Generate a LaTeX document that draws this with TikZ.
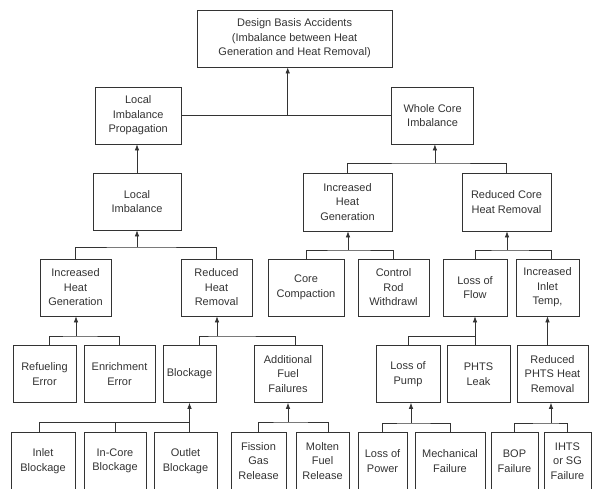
\documentclass[tikz,border=0pt]{standalone}
\usepackage{fontspec}
\setmainfont{Liberation Sans}
\usetikzlibrary{arrows.meta}

\begin{document}
\begin{tikzpicture}[x=1pt,y=1pt,yscale=-1,
    box/.style={draw=black!80,line width=0.7pt,align=center,inner sep=1pt,
      text=black!80,font=\fontsize{11}{14.5}\selectfont},
    wire/.style={draw=black!80,line width=0.7pt},
    arr/.style={wire,-{Latex[length=6pt,width=4.5pt]}}]
  \clip (0,0) rectangle (592,488);
  % top
  \node[box,minimum width=194.5,minimum height=57] (dba) at (294.6,38.5) {Design Basis Accidents\\(Imbalance between Heat\\Generation and Heat Removal)};
  \node[box,minimum width=86,minimum height=57] (lip) at (138.2,115.5) {Local\\Imbalance\\Propagation};
  \node[box,minimum width=81.6,minimum height=57] (wci) at (432.6,115.5) {Whole Core\\Imbalance};
  % second row
  \node[box,minimum width=88,minimum height=57] (li) at (137,201.5) {Local\\Imbalance};
  \node[box,minimum width=89,minimum height=58] (ihgr) at (347.5,202) {Increased\\Heat\\Generation};
  \node[box,minimum width=89,minimum height=58] (rchr) at (506.5,202) {Reduced Core\\Heat Removal};
  % third row
  \node[box,minimum width=71,minimum height=57] (ihgl) at (75.5,287.5) {Increased\\Heat\\Generation};
  \node[box,minimum width=71,minimum height=57] (rhr) at (216.5,287.5) {Reduced\\Heat\\Removal};
  \node[box,minimum width=76,minimum height=57] (cc) at (306,287.5) {Core\\Compaction};
  \node[box,minimum width=71,minimum height=57] (crw) at (393.5,287.5) {Control\\Rod\\Withdrawl};
  \node[box,minimum width=64,minimum height=57] (lof) at (475,287.5) {Loss of\\Flow};
  \node[box,minimum width=63,minimum height=57] (iit) at (547.5,287.5) {Increased\\Inlet\\Temp,};
  % fourth row
  \node[box,minimum width=63,minimum height=57] (re) at (44.5,374) {Refueling\\Error};
  \node[box,minimum width=71,minimum height=57] (ee) at (119.5,374) {Enrichment\\Error};
  \node[box,minimum width=53,minimum height=57] (blk) at (189.5,374) {Blockage};
  \node[box,minimum width=68,minimum height=57] (aff) at (288,374) {Additional\\Fuel\\Failures};
  \node[box,minimum width=64,minimum height=57] (lop) at (408,374) {Loss of\\Pump};
  \node[box,minimum width=63,minimum height=57] (pl) at (478.5,374) {PHTS\\Leak};
  \node[box,minimum width=71,minimum height=57] (rphr) at (552.5,374) {Reduced\\PHTS Heat\\Removal};
  % bottom row
  \node[box,minimum width=64,minimum height=58] (ib) at (43,461) {Inlet\\Blockage};
  \node[box,minimum width=62,minimum height=58] (icb) at (115,461) {In-Core\\Blockage};
  \node[box,minimum width=63,minimum height=58] (ob) at (185.5,461) {Outlet\\Blockage};
  \node[box,minimum width=55,minimum height=58] (fgr) at (258.5,461) {Fission\\Gas\\Release};
  \node[box,minimum width=53,minimum height=58] (mfr) at (322.5,461) {Molten\\Fuel\\Release};
  \node[box,minimum width=49,minimum height=58] (lpw) at (382.5,461) {Loss of\\Power};
  \node[box,minimum width=70,minimum height=58] (mf) at (450,461) {Mechanical\\Failure};
  \node[box,minimum width=47,minimum height=58] (bop) at (514.5,461) {BOP\\Failure};
  \node[box,minimum width=47,minimum height=58] (ihts) at (567.5,461) {IHTS\\or SG\\Failure};

  % bus junctions
  \coordinate (b0) at (287.7,115);
  \coordinate (b1) at (434.9,163);
  \coordinate (b2) at (137,247);
  \coordinate (b3) at (348,250);
  \coordinate (b4) at (507,250);
  \coordinate (b5) at (76,336);
  \coordinate (b6) at (217,336);
  \coordinate (b7) at (475,336);
  \coordinate (b9) at (189.5,422);
  \coordinate (b10) at (288,422);
  \coordinate (b11) at (411,423);
  \coordinate (b12) at (551,423);

  % connectors
  \draw[wire] (lip.east) -- (wci.west);
  \draw[arr] (b0) -- (b0 |- dba.south);
  \draw[arr] (li.north) -- (li.north |- lip.south);
  \draw[wire] (ihgr.north) |- (b1) -| (rchr.north);
  \draw[arr] (b1) -- (b1 |- wci.south);
  \draw[wire] (ihgl.north) |- (b2) -| (rhr.north);
  \draw[arr] (b2) -- (b2 |- li.south);
  \draw[wire] (cc.north) |- (b3) -| (crw.north);
  \draw[arr] (b3) -- (b3 |- ihgr.south);
  \draw[wire] (lof.north) |- (b4) -| ([xshift=3.5pt]iit.north);
  \draw[arr] (b4) -- (b4 |- rchr.south);
  \draw[wire] ([xshift=4.5pt]re.north) |- (b5) -| (ee.north);
  \draw[arr] (b5) -- (b5 |- ihgl.south);
  \draw[wire] ([xshift=9.5pt]blk.north) |- (b6) -| ([xshift=7pt]aff.north);
  \draw[arr] (b6) -- (b6 |- rhr.south);
  \draw[wire] (lop.north) |- (b7);
  \draw[arr] (b7 |- pl.north) -- (b7 |- lof.south);
  \draw[arr] (iit.south |- rphr.north) -- (iit.south);
  \draw[wire] ([xshift=-4pt]ib.north) |- (b9);
  \draw[wire] (icb.north) -- (icb.north |- b9);
  \draw[arr] (b9 |- ob.north) -- (b9 |- blk.south);
  \draw[wire] (fgr.north) |- (b10) -| ([xshift=5.5pt]mfr.north);
  \draw[arr] (b10) -- (b10 |- aff.south);
  \draw[wire] (lpw.north) |- (b11) -| (mf.north);
  \draw[arr] (b11) -- (b11 |- lop.south);
  \draw[wire] (bop.north) |- (b12) -| (ihts.north);
  \draw[arr] (b12) -- (b12 |- rphr.south);
\end{tikzpicture}
\end{document}
